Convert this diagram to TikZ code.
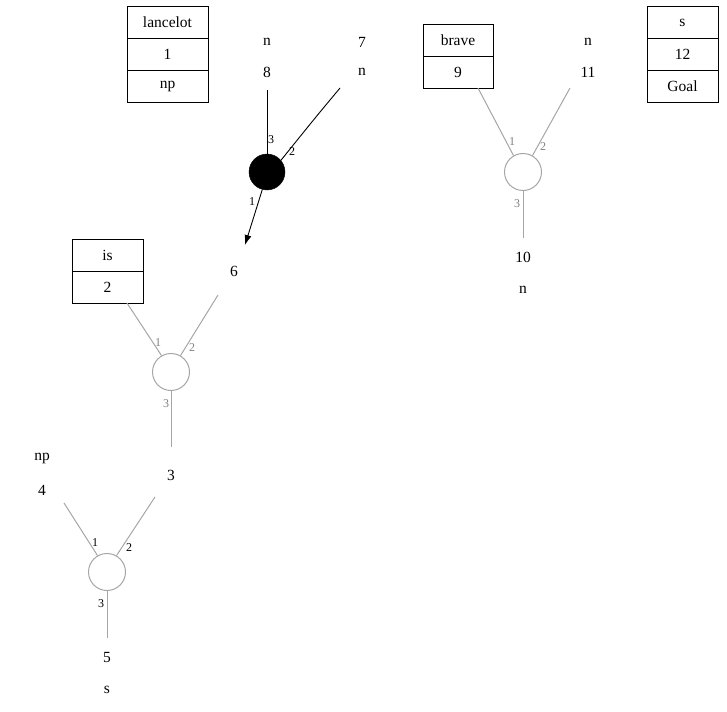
\documentclass[tikz,border=0pt]{standalone}
\usepackage{fontspec}
\setmainfont{Liberation Serif}
\usetikzlibrary{arrows.meta}
\begin{document}
\begin{tikzpicture}[x=1pt,y=-1pt,
  txt/.style={font=\fontsize{15.5}{17}\selectfont},
  lbl/.style={font=\fontsize{12}{13}\selectfont},
  glbl/.style={lbl,text=gray},
  gcirc/.style={circle,draw=gray!70,line width=1pt,minimum size=37pt,inner sep=0pt},
  bcirc/.style={circle,draw,fill=black,minimum size=36pt,inner sep=0pt},
  gline/.style={draw=gray!70,line width=1pt},
  cell/.style={draw,txt,minimum height=32pt,inner sep=0pt}]
\useasboundingbox (0,0) rectangle (727,711);
% lancelot box
\node[cell,minimum width=81pt] (l1) at (167.5,22.5) {lancelot};
\node[cell,minimum width=81pt] (l2) at (167.5,54.5) {1};
\node[cell,minimum width=81pt] (l3) at (167.5,86.5) {np};
% s box
\node[cell,minimum width=71pt] (s1) at (682.5,22.5) {s};
\node[cell,minimum width=71pt] (s2) at (682.5,54.5) {12};
\node[cell,minimum width=71pt] (s3) at (682.5,86.5) {Goal};
% brave box
\node[cell,minimum width=70pt] (b1) at (458,40.5) {brave};
\node[cell,minimum width=70pt] (b2) at (458,72) {9};
% is box
\node[cell,minimum width=71pt] (i1) at (107.5,255.5) {is};
\node[cell,minimum width=71pt] (i2) at (107.5,287) {2};
% texts
\node[txt] (n8a) at (267,42) {n};
\node[txt] (n8) at (267,72) {8};
\node[txt] (n7) at (362,42) {7};
\node[txt] (n7b) at (362,72) {n};
\node[txt] (n11a) at (588,42) {n};
\node[txt] (n11) at (588,72) {11};
\node[txt] (n10) at (523,257) {10};
\node[txt] (n10b) at (523,290) {n};
\node[txt] (n6) at (234,271) {6};
\node[txt] (n3) at (171,475) {3};
\node[txt] (n4a) at (42,458) {np};
\node[txt] (n4) at (42,490) {4};
\node[txt] (n5) at (107,657) {5};
\node[txt] (n5b) at (107,690) {s};
% black node
\node[bcirc] (c1) at (267,172) {};
\coordinate (c1a) at (267,90);
\coordinate (c1b) at (340,88);
\coordinate (c1c) at (245,245);
\draw[line width=0.9pt] (c1a) -- (c1.north);
\draw[line width=0.9pt] (c1b) .. controls (315,118) .. (c1.40);
\draw[line width=0.9pt,-{Latex[length=10pt,width=7pt]}] (c1.255) -- (c1c);
\node[lbl] at (271,140) {3};
\node[lbl] at (292,152) {2};
\node[lbl] at (252,202) {1};
% brave node
\node[gcirc] (c2) at (523,172) {};
\coordinate (c2a) at (478,88);
\coordinate (c2b) at (570,88);
\coordinate (c2c) at (523,238);
\draw[gline] (c2a) -- (c2.120);
\draw[gline] (c2b) -- (c2.60);
\draw[gline] (c2.south) -- (c2c);
\node[glbl] at (512,142) {1};
\node[glbl] at (543,147) {2};
\node[glbl] at (517,204) {3};
% is node
\node[gcirc] (c3) at (171,372) {};
\coordinate (c3a) at (127,303);
\coordinate (c3b) at (218,295);
\coordinate (c3c) at (171,447);
\draw[gline] (c3a) -- (c3.120);
\draw[gline] (c3b) -- (c3.60);
\draw[gline] (c3.south) -- (c3c);
\node[glbl] at (158,343) {1};
\node[glbl] at (192,348) {2};
\node[glbl] at (166,404) {3};
% bottom node
\node[gcirc] (c4) at (107,572) {};
\coordinate (c4a) at (64,503);
\coordinate (c4b) at (155,497);
\coordinate (c4c) at (107,638);
\draw[gline] (c4a) -- (c4.120);
\draw[gline] (c4b) -- (c4.60);
\draw[gline] (c4.south) -- (c4c);
\node[lbl] at (95,543) {1};
\node[lbl] at (129,548) {2};
\node[lbl] at (101,604) {3};
\end{tikzpicture}
\end{document}
